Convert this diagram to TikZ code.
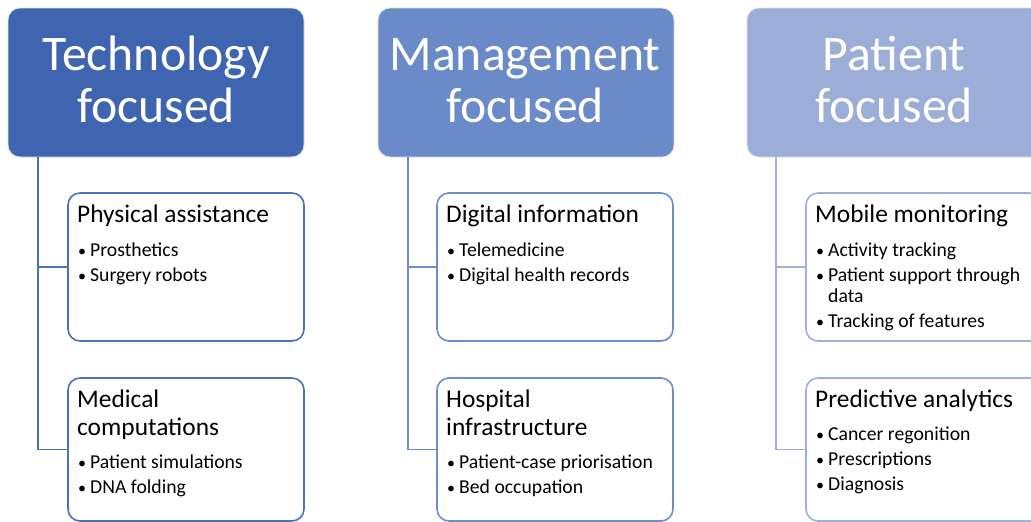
\documentclass[tikz,border=0pt]{standalone}
\usepackage{fontspec}
\setmainfont{Carlito}
\definecolor{hA}{HTML}{3F65B0}
\definecolor{hB}{HTML}{6A8AC8}
\definecolor{hC}{HTML}{9CADD8}
\definecolor{bA}{HTML}{4A72B8}
\definecolor{bB}{HTML}{6E8ECB}
\definecolor{bC}{HTML}{9DB0DC}
\tikzset{
 hdr/.style={draw=gray!25, line width=0.8pt, rounded corners=12pt, minimum width=296pt, minimum height=149pt, inner sep=0pt, outer sep=0pt, anchor=north west},
 card/.style={draw, line width=1.6pt, fill=white, rounded corners=12pt, minimum width=236pt, inner sep=0pt, outer sep=0pt, anchor=north west},
 htxt/.style={text=white, font=\fontsize{49.7}{52}\selectfont, anchor=base, inner sep=0pt},
 ttl/.style={font=\fontsize{25.4}{28}\selectfont, anchor=base west, inner sep=0pt},
 itm/.style={font=\fontsize{19.7}{21}\selectfont, anchor=base west, inner sep=0pt},
 dot/.style={font=\fontsize{16}{18}\selectfont, anchor=base west, inner sep=0pt},
 conn/.style={line width=1.6pt},
}
\begin{document}
\begin{tikzpicture}[x=1pt,y=-1pt]
\useasboundingbox (0,0) rectangle (1031,522);
\clip (0,0) rectangle (1031,522);
% ---------- column 1 ----------
\node[hdr, fill=hA] (hA) at (8,8) {};
\node[htxt] (hA1) at (156,70) {Technology};
\node[htxt] (hA2) at (156,122) {focused};
\node[card, draw=bA, minimum height=148pt] (cA1) at (68,193) {};
\node[card, draw=bA, minimum height=143pt] (cA2) at (68,378) {};
\coordinate (vA) at (38,157);
\draw[conn, bA] (vA) |- (cA1.west);
\draw[conn, bA] (vA) |- (cA2.west);
\node[ttl] (tA1) at (77,222) {Physical assistance};
\node[dot] (dA11) at (78,256) {•};
\node[itm] (iA11) at (90,256) {Prosthetics};
\node[dot] (dA12) at (78,281) {•};
\node[itm] (iA12) at (90,281) {Surgery robots};
\node[ttl] (tA2a) at (77,407) {Medical};
\node[ttl] (tA2b) at (77,435) {computations};
\node[dot] (dA21) at (78,468) {•};
\node[itm] (iA21) at (90,468) {Patient simulations};
\node[dot] (dA22) at (78,493) {•};
\node[itm] (iA22) at (90,493) {DNA folding};
% ---------- column 2 ----------
\node[hdr, fill=hB] (hB) at (378,8) {};
\node[htxt] (hB1) at (525,70) {Management};
\node[htxt] (hB2) at (525,122) {focused};
\node[card, draw=bB, minimum height=148pt] (cB1) at (437,193) {};
\node[card, draw=bB, minimum height=143pt] (cB2) at (437,378) {};
\coordinate (vB) at (408,157);
\draw[conn, bB] (vB) |- (cB1.west);
\draw[conn, bB] (vB) |- (cB2.west);
\node[ttl] (tB1) at (446,222) {Digital information};
\node[dot] (dB11) at (447,256) {•};
\node[itm] (iB11) at (459,256) {Telemedicine};
\node[dot] (dB12) at (447,281) {•};
\node[itm] (iB12) at (459,281) {Digital health records};
\node[ttl] (tB2a) at (446,407) {Hospital};
\node[ttl] (tB2b) at (446,435) {infrastructure};
\node[dot] (dB21) at (447,468) {•};
\node[itm] (iB21) at (459,468) {Patient-case priorisation};
\node[dot] (dB22) at (447,493) {•};
\node[itm] (iB22) at (459,493) {Bed occupation};
% ---------- column 3 ----------
\node[hdr, fill=hC] (hC) at (747,8) {};
\node[htxt] (hC1) at (894,70) {Patient};
\node[htxt] (hC2) at (894,122) {focused};
\node[card, draw=bC, minimum height=148pt] (cC1) at (806,193) {};
\node[card, draw=bC, minimum height=143pt] (cC2) at (806,378) {};
\coordinate (vC) at (776,157);
\draw[conn, bC] (vC) |- (cC1.west);
\draw[conn, bC] (vC) |- (cC2.west);
\node[ttl] (tC1) at (815,222) {Mobile monitoring};
\node[dot] (dC11) at (816,256) {•};
\node[itm] (iC11) at (828,256) {Activity tracking};
\node[dot] (dC12) at (816,281) {•};
\node[itm] (iC12) at (828,281) {Patient support through};
\node[itm] (iC12b) at (828,302) {data};
\node[dot] (dC13) at (816,327) {•};
\node[itm] (iC13) at (828,327) {Tracking of features};
\node[ttl] (tC2) at (815,407) {Predictive analytics};
\node[dot] (dC21) at (816,440) {•};
\node[itm] (iC21) at (828,440) {Cancer regonition};
\node[dot] (dC22) at (816,465) {•};
\node[itm] (iC22) at (828,465) {Prescriptions};
\node[dot] (dC23) at (816,490) {•};
\node[itm] (iC23) at (828,490) {Diagnosis};
\end{tikzpicture}
\end{document}
